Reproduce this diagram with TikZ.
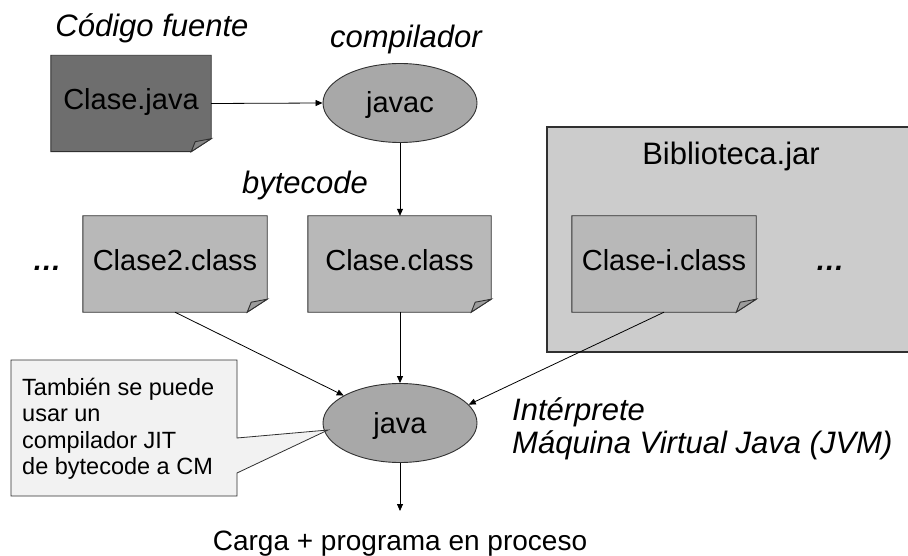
\documentclass[tikz,border=0pt]{standalone}
\usepackage{fontspec}
\setmainfont{Liberation Sans}
\usetikzlibrary{arrows.meta,shapes.geometric,backgrounds}
\definecolor{javafill}{HTML}{6E6E6E}
\definecolor{javafold}{HTML}{858585}
\definecolor{classfill}{HTML}{B8B8B8}
\definecolor{classfold}{HTML}{9C9C9C}
\definecolor{ellfill}{HTML}{A8A8A8}
\definecolor{libfill}{HTML}{CCCCCC}
\definecolor{notefill}{HTML}{F2F2F2}
\definecolor{linec}{HTML}{303030}
\newcommand\foldshape[3]{%
  \begin{scope}[on background layer]
    \filldraw[fill=#2, draw=linec, line width=0.9pt] (#1.north west) -- (#1.north east) -- ([yshift=13pt]#1.south east) -- ([xshift=-20pt]#1.south east) -- (#1.south west) -- cycle;
    \filldraw[fill=#3, draw=linec, line width=0.9pt] ([yshift=13pt]#1.south east) -- ([xshift=-16pt,yshift=10pt]#1.south east) -- ([xshift=-20pt]#1.south east) -- cycle;
  \end{scope}}
\tikzset{
  docbox/.style={draw=none, fill=none, inner sep=0pt, minimum height=96pt,
    text height=12pt, text depth=0pt, font=\fontsize{29}{34}\selectfont},
  ellnode/.style={ellipse, draw=linec, line width=0.9pt, fill=ellfill, inner sep=0pt,
    minimum width=154pt, minimum height=79pt, text height=20pt, text depth=0pt,
    font=\fontsize{29}{34}\selectfont},
  italab/.style={anchor=base, inner sep=0pt, font=\fontsize{31}{36}\selectfont\itshape},
  plainlab/.style={anchor=base, inner sep=0pt, font=\fontsize{29}{34}\selectfont},
  notelab/.style={anchor=base west, inner sep=0pt, font=\fontsize{23.5}{27}\selectfont},
  conn/.style={-{Triangle[length=7pt,width=6pt]}, line width=0.8pt, black},
}
\begin{document}
\begin{tikzpicture}[x=1pt,y=-1pt]
\useasboundingbox (0,0) rectangle (908,556);
% library box (furthest back)
\begin{scope}[on background layer]
  \fill[white] (0,0) rectangle (908,556);
  \filldraw[fill=libfill, draw=linec, line width=1.3pt] (547,127) rectangle (915,352);
\end{scope}
\node[plainlab, font=\fontsize{31}{36}\selectfont] (lib) at (731,165) {Biblioteca.jar};

% labels
\node[italab] (src) at (152,37) {Código fuente};
\node[italab] (comp) at (406,48) {compilador};
\node[italab] (bc) at (305,194) {bytecode};

% source file
\node[docbox, minimum width=160pt] (cj) at (131,103.5) {Clase.java};
\foldshape{cj}{javafill}{javafold}

% compiler
\node[ellnode] (javac) at (400,103) {javac};

% class files
\node[docbox, minimum width=184pt] (c2) at (175,264) {Clase2.class};
\foldshape{c2}{classfill}{classfold}
\node[docbox, minimum width=183pt] (cc) at (399.5,264) {Clase.class};
\foldshape{cc}{classfill}{classfold}
\node[docbox, minimum width=184pt] (ci) at (664,264) {Clase-i.class};
\foldshape{ci}{classfill}{classfold}

\node[plainlab, font=\fontsize{29}{34}\selectfont\bfseries\itshape] (dl) at (47,271) {…};
\node[plainlab, font=\fontsize{29}{34}\selectfont\bfseries\itshape] (dr) at (830,271) {…};

% interpreter
\node[ellnode] (java) at (400,423) {java};

% callout
\filldraw[fill=notefill, draw=linec, line width=0.8pt]
  (11,360) -- (237,360) -- (237,438) -- (328,430) -- (237,473) -- (237,496) -- (11,496) -- cycle;
\node[notelab] (n1) at (22,395) {También se puede};
\node[notelab] (n2) at (22,421.5) {usar un};
\node[notelab] (n3) at (22,448) {compilador JIT};
\node[notelab] (n4) at (22,474.5) {de bytecode a CM};

\node[italab, anchor=base west] (int) at (512,420) {Intérprete};
\node[italab, anchor=base west] (jvm) at (512,453) {Máquina Virtual Java (JVM)};

\coordinate (out) at (400,511);
\node[plainlab, font=\fontsize{28}{33}\selectfont] (carga) at (400,550) {Carga + programa en proceso};

% connectors
\draw[conn] (cj.east) -- (javac.west);
\draw[conn] (javac.south) -- (javac.south |- cc.north);
\draw[conn] (c2.south) -- (java.154);
\draw[conn] (java.north |- cc.south) -- (java.north);
\draw[conn] (ci.south) -- (java.15);
\draw[conn] (java.south) -- (out);
\end{tikzpicture}
\end{document}
